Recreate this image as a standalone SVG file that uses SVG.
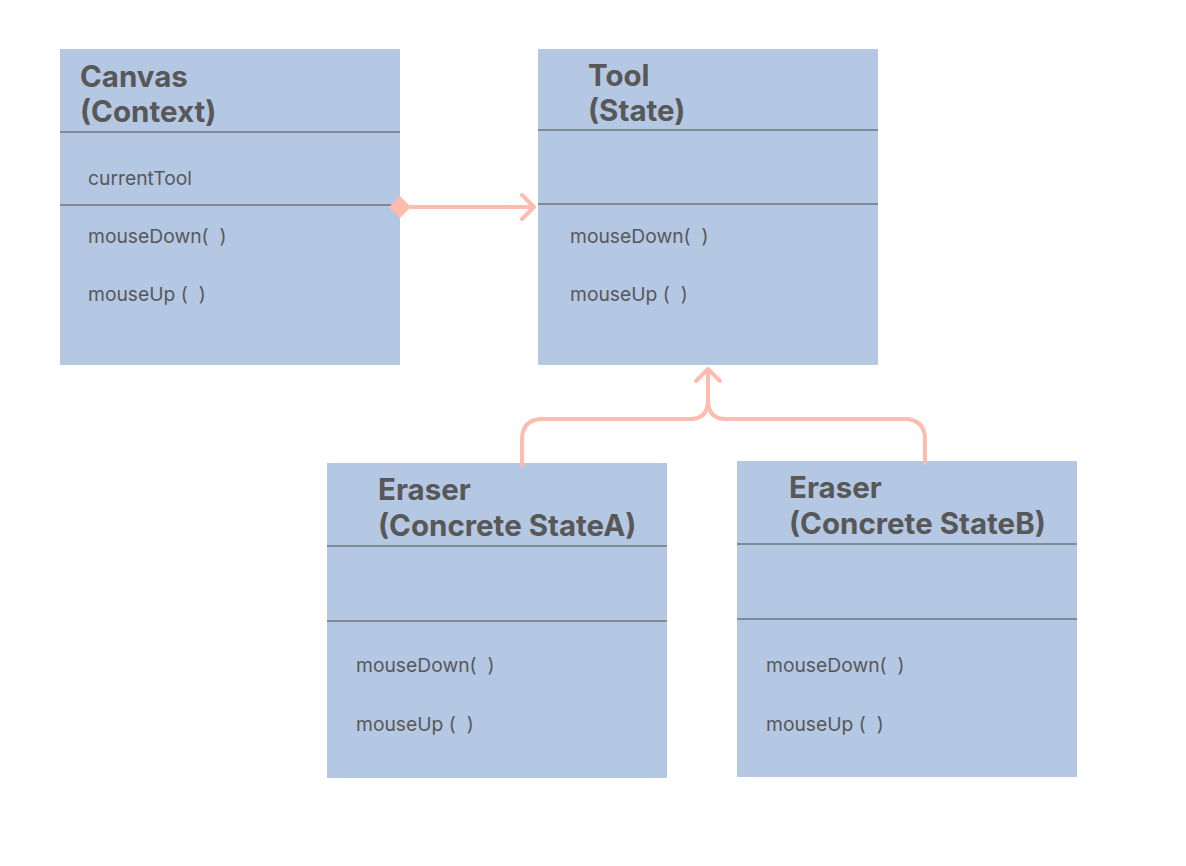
<svg xmlns="http://www.w3.org/2000/svg" width="1186" height="866" viewBox="0 0 1186 866">
<style>
.box{fill:#b4c7e3}
.div{stroke:#6f747c;stroke-width:1.3}
.title{font-family:Inter,"Noto Sans",sans-serif;font-weight:bold;font-size:29.5px;fill:#585858}
.item{font-family:Inter,"Noto Sans",sans-serif;font-size:19.3px;fill:#585858}
.con{fill:none;stroke:#ffbcae;stroke-width:4;stroke-linecap:round;stroke-linejoin:round}
</style>
<rect width="1186" height="866" fill="#ffffff"/>
<g id="canvas">
<rect class="box" x="60" y="49" width="340" height="316"/>
<line class="div" x1="60" y1="132" x2="400" y2="132"/>
<line class="div" x1="60" y1="205" x2="400" y2="205"/>
<text class="title" x="80" y="87">Canvas</text>
<text class="title" x="80" y="122">(Context)</text>
<text class="item" x="88" y="185">currentTool</text>
<text class="item" x="88" y="243" xml:space="preserve">mouseDown(  )</text>
<text class="item" x="88" y="301" xml:space="preserve">mouseUp (  )</text>
</g>
<g id="tool">
<rect class="box" x="538" y="49" width="340" height="316"/>
<line class="div" x1="538" y1="130" x2="878" y2="130"/>
<line class="div" x1="538" y1="204" x2="878" y2="204"/>
<text class="title" x="588" y="86">Tool</text>
<text class="title" x="588" y="121">(State)</text>
<text class="item" x="570" y="243" xml:space="preserve">mouseDown(  )</text>
<text class="item" x="570" y="301" xml:space="preserve">mouseUp (  )</text>
</g>
<g id="eraserA">
<rect class="box" x="327" y="463" width="340" height="315"/>
<line class="div" x1="327" y1="546" x2="667" y2="546"/>
<line class="div" x1="327" y1="621" x2="667" y2="621"/>
<text class="title" x="378" y="500">Eraser</text>
<text class="title" x="378" y="536">(Concrete StateA)</text>
<text class="item" x="356" y="672" xml:space="preserve">mouseDown(  )</text>
<text class="item" x="356" y="731" xml:space="preserve">mouseUp (  )</text>
</g>
<g id="eraserB">
<rect class="box" x="737" y="461" width="340" height="316"/>
<line class="div" x1="737" y1="544" x2="1077" y2="544"/>
<line class="div" x1="737" y1="619" x2="1077" y2="619"/>
<text class="title" x="789" y="498">Eraser</text>
<text class="title" x="789" y="534">(Concrete StateB)</text>
<text class="item" x="766" y="672" xml:space="preserve">mouseDown(  )</text>
<text class="item" x="766" y="731" xml:space="preserve">mouseUp (  )</text>
</g>
<g id="connectors">
<polygon points="389,207 400,196 411,207 400,218" fill="#ffbcae"/>
<path class="con" d="M411,207 H534 M522,195 L534,207 L522,219"/>
<path class="con" d="M522,465 V440 Q522,419 543,419 H690 Q708,419 708,400 V369 M696,381 L708,369 L720,381"/>
<path class="con" d="M708,400 Q708,419 726,419 H904 Q925,419 925,440 V463"/>
</g>
</svg>
